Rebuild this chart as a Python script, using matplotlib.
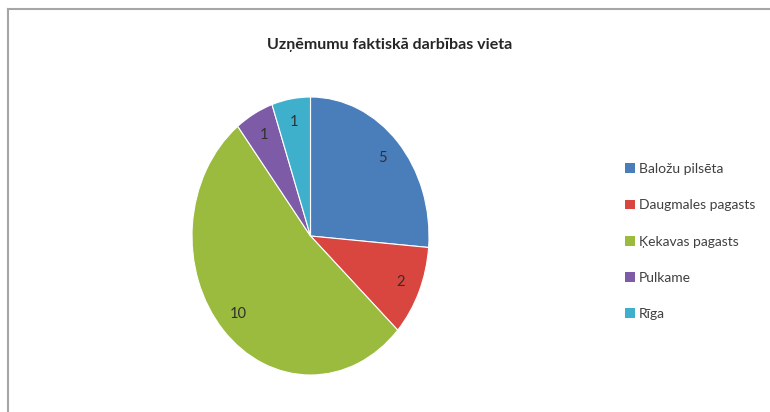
import matplotlib.pyplot as plt
from matplotlib.patches import Patch
from matplotlib.lines import Line2D

labels = ["Baložu pilsēta", "Daugmales pagasts", "Ķekavas pagasts", "Pulkame", "Rīga"]
values = [5, 2, 10, 1, 1]
colors = ["#4a7ebb", "#d9453f", "#9bbb3f", "#7d5ba6", "#3fb0cc"]

plt.rcParams['font.family'] = ['Lato', 'DejaVu Sans']

fig = plt.figure(figsize=(7.7, 4.12), dpi=100)

# chart border (only top and left visible in the crop)
fig.add_artist(Line2D([8/770, 8/770], [0, 403/412], transform=fig.transFigure,
                      color="#a6a6a6", lw=1.5))
fig.add_artist(Line2D([8/770, 1], [403/412, 403/412], transform=fig.transFigure,
                      color="#a6a6a6", lw=1.5))

ax = fig.add_axes([192/770, 37/412, 237/770, 278/412])
total = sum(values)
wedges, texts, autotexts = ax.pie(
    values, colors=colors, startangle=90, counterclock=False,
    autopct=lambda p: "%d" % round(p * total / 100), pctdistance=0.83,
    wedgeprops=dict(edgecolor="white", linewidth=0.8),
    textprops=dict(fontsize=10.5, color="#303030"))
ax.set_aspect('auto')
ax.set_xlim(-1, 1)
ax.set_ylim(-1, 1)

fig.text(390/770, 1 - 45/412, "Uzņēmumu faktiskā darbības vieta",
         ha="center", va="center", fontsize=11.5, fontweight="bold", color="#262626")

handles = [Patch(facecolor=c) for c in colors]
fig.legend(handles, labels, loc="upper left", bbox_to_anchor=(618/770, 1 - 156/412),
           frameon=False, fontsize=10, labelspacing=1.75, handlelength=0.7,
           handleheight=0.7, handletextpad=0.3, borderpad=0, labelcolor="#404040")

plt.savefig("out.png", dpi=100)
